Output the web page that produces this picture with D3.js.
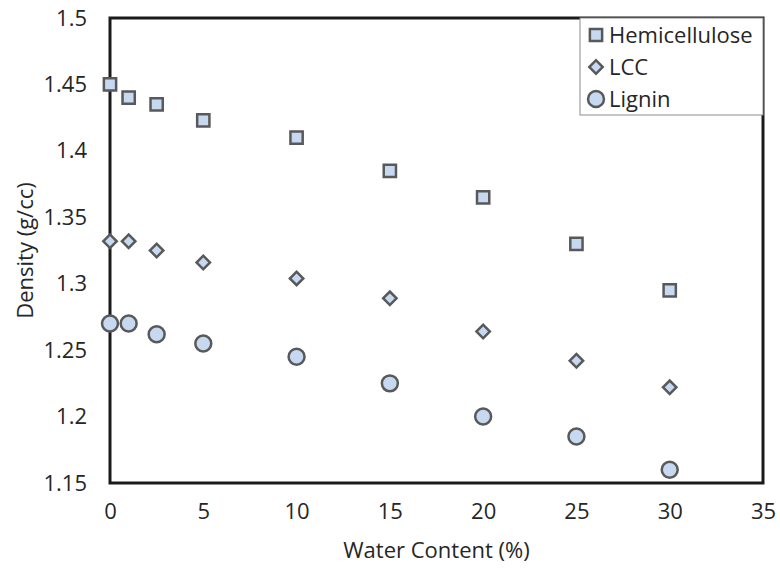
<!DOCTYPE html>
<html>
<head>
<meta charset="utf-8">
<script src="https://cdn.jsdelivr.net/npm/d3@7/dist/d3.min.js"></script>
<style>
  html, body { margin: 0; padding: 0; background: #fff; }
  svg { display: block; font-family: "Open Sans", "Noto Sans", sans-serif; }
</style>
</head>
<body>
<svg id="chart" width="780" height="568"></svg>
<script>
// Water content (%) at which density was measured
const waterContent = [0, 1, 2.5, 5, 10, 15, 20, 25, 30];
// Density (g/cc) per component
const hemicellulose = [1.45, 1.44, 1.435, 1.423, 1.41, 1.385, 1.365, 1.33, 1.295];
const lcc = [1.332, 1.332, 1.325, 1.316, 1.304, 1.289, 1.264, 1.242, 1.222];
const lignin = [1.27, 1.27, 1.262, 1.255, 1.245, 1.225, 1.2, 1.185, 1.16];
const seriesNames = ["Hemicellulose", "LCC", "Lignin"];
const xTicks = [0, 5, 10, 15, 20, 25, 30, 35];
const yTicks = [1.15, 1.2, 1.25, 1.3, 1.35, 1.4, 1.45, 1.5];

const svg = d3.select("#chart");
const margin = { left: 110, right: 17, top: 18, bottom: 85 };
const W = 780, H = 568;

const x = d3.scaleLinear().domain([0, 35]).range([margin.left, W - margin.right]);
const y = d3.scaleLinear().domain([1.15, 1.5]).range([H - margin.bottom, margin.top]);

const fill = "#c6d9f1", stroke = "#595959", textColor = "#262626";

// Axes (labels only, no tick marks)
const xAxis = svg.append("g")
  .attr("transform", `translate(0,${H - margin.bottom})`)
  .call(d3.axisBottom(x).tickValues(xTicks).tickSize(0).tickPadding(20).tickFormat(d3.format("d")));
const yAxis = svg.append("g")
  .attr("transform", `translate(${margin.left},0)`)
  .call(d3.axisLeft(y).tickValues(yTicks).tickSize(0).tickPadding(23).tickFormat(d => String(+d.toFixed(2))));
[xAxis, yAxis].forEach(g => {
  g.select(".domain").remove();
  g.selectAll("text").attr("font-size", 22).attr("fill", textColor)
    .attr("font-family", "'Open Sans', sans-serif");
});

// Plot frame
svg.append("rect")
  .attr("x", margin.left).attr("y", margin.top)
  .attr("width", W - margin.right - margin.left)
  .attr("height", H - margin.bottom - margin.top)
  .attr("fill", "none").attr("stroke", "#1a1a1a").attr("stroke-width", 3);

// Axis titles
svg.append("text")
  .attr("x", (margin.left + W - margin.right) / 2).attr("y", 558)
  .attr("text-anchor", "middle").attr("font-size", 22).attr("fill", textColor)
  .text("Water Content (%)");
svg.append("text")
  .attr("transform", `translate(33,${(margin.top + H - margin.bottom) / 2}) rotate(-90)`)
  .attr("text-anchor", "middle").attr("font-size", 22).attr("fill", textColor)
  .text("Density (g/cc)");

const symbols = [
  d3.symbol().type(d3.symbolSquare).size(150),
  d3.symbol().type(d3.symbolSquare).size(90),
  d3.symbol().type(d3.symbolCircle).size(200)
];
const rotations = [0, 45, 0];
const allSeries = [hemicellulose, lcc, lignin];

// Legend box
const legend = svg.append("g");
legend.append("rect")
  .attr("x", 580).attr("y", margin.top).attr("width", W - margin.right - 580).attr("height", 97)
  .attr("fill", "#fff").attr("stroke", "#8c8c8c").attr("stroke-width", 1);
seriesNames.forEach((name, i) => {
  const ly = 35 + i * 32;
  legend.append("path")
    .attr("d", symbols[i]())
    .attr("transform", `translate(596,${ly}) rotate(${rotations[i]})`)
    .attr("fill", fill).attr("stroke", stroke).attr("stroke-width", 2.5);
  legend.append("text")
    .attr("x", 609).attr("y", ly + 8)
    .attr("font-size", 22).attr("fill", textColor)
    .text(name);
});

// Markers
allSeries.forEach((vals, i) => {
  svg.append("g").selectAll("path")
    .data(vals.map((v, j) => [waterContent[j], v]))
    .join("path")
    .attr("d", symbols[i]())
    .attr("transform", d => `translate(${x(d[0])},${y(d[1])}) rotate(${rotations[i]})`)
    .attr("fill", fill).attr("stroke", stroke).attr("stroke-width", 2.5);
});
</script>
</body>
</html>
